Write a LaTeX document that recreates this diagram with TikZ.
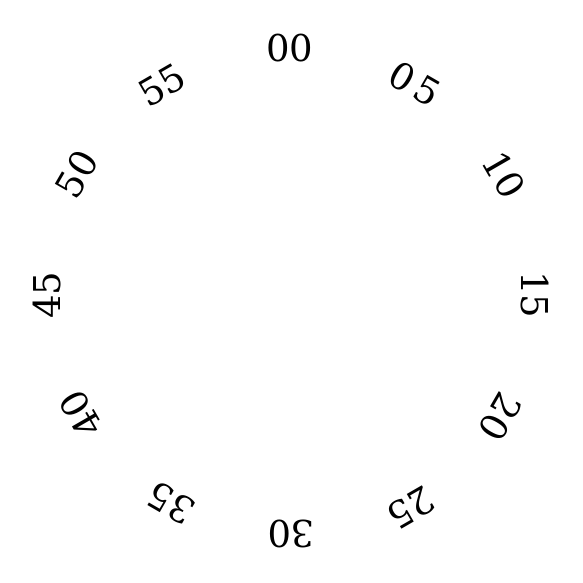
\documentclass[tikz,border=0pt]{standalone}
\usepackage{fontspec}
\setmainfont{DejaVu Serif}
\begin{document}
\begin{tikzpicture}[x=1pt,y=1pt,
  lbl/.style={inner sep=0pt, font=\fontsize{37}{40}\selectfont, text=black}]
\useasboundingbox (0,0) rectangle (583,583);
\node[lbl, rotate=0]    (m00) at (290,583-48)  {00};
\node[lbl, rotate=-30]  (m05) at (415,583-84)  {0\hspace{5pt}5};
\node[lbl, rotate=-60]  (m10) at (504,583-175) {10};
\node[lbl, rotate=-90]  (m15) at (535,583-295) {15};
\node[lbl, rotate=-120] (m20) at (500,583-417) {20};
\node[lbl, rotate=-150] (m25) at (411,583-508) {25};
\node[lbl, rotate=180]  (m30) at (291,583-534) {30};
\node[lbl, rotate=150]  (m35) at (171,583-503) {35};
\node[lbl, rotate=120]  (m40) at (81,583-414)  {40};
\node[lbl, rotate=90]   (m45) at (47,583-295)  {45};
\node[lbl, rotate=60]   (m50) at (77,583-174)  {50};
\node[lbl, rotate=30]   (m55) at (162,583-85)  {55};
\end{tikzpicture}
\end{document}
